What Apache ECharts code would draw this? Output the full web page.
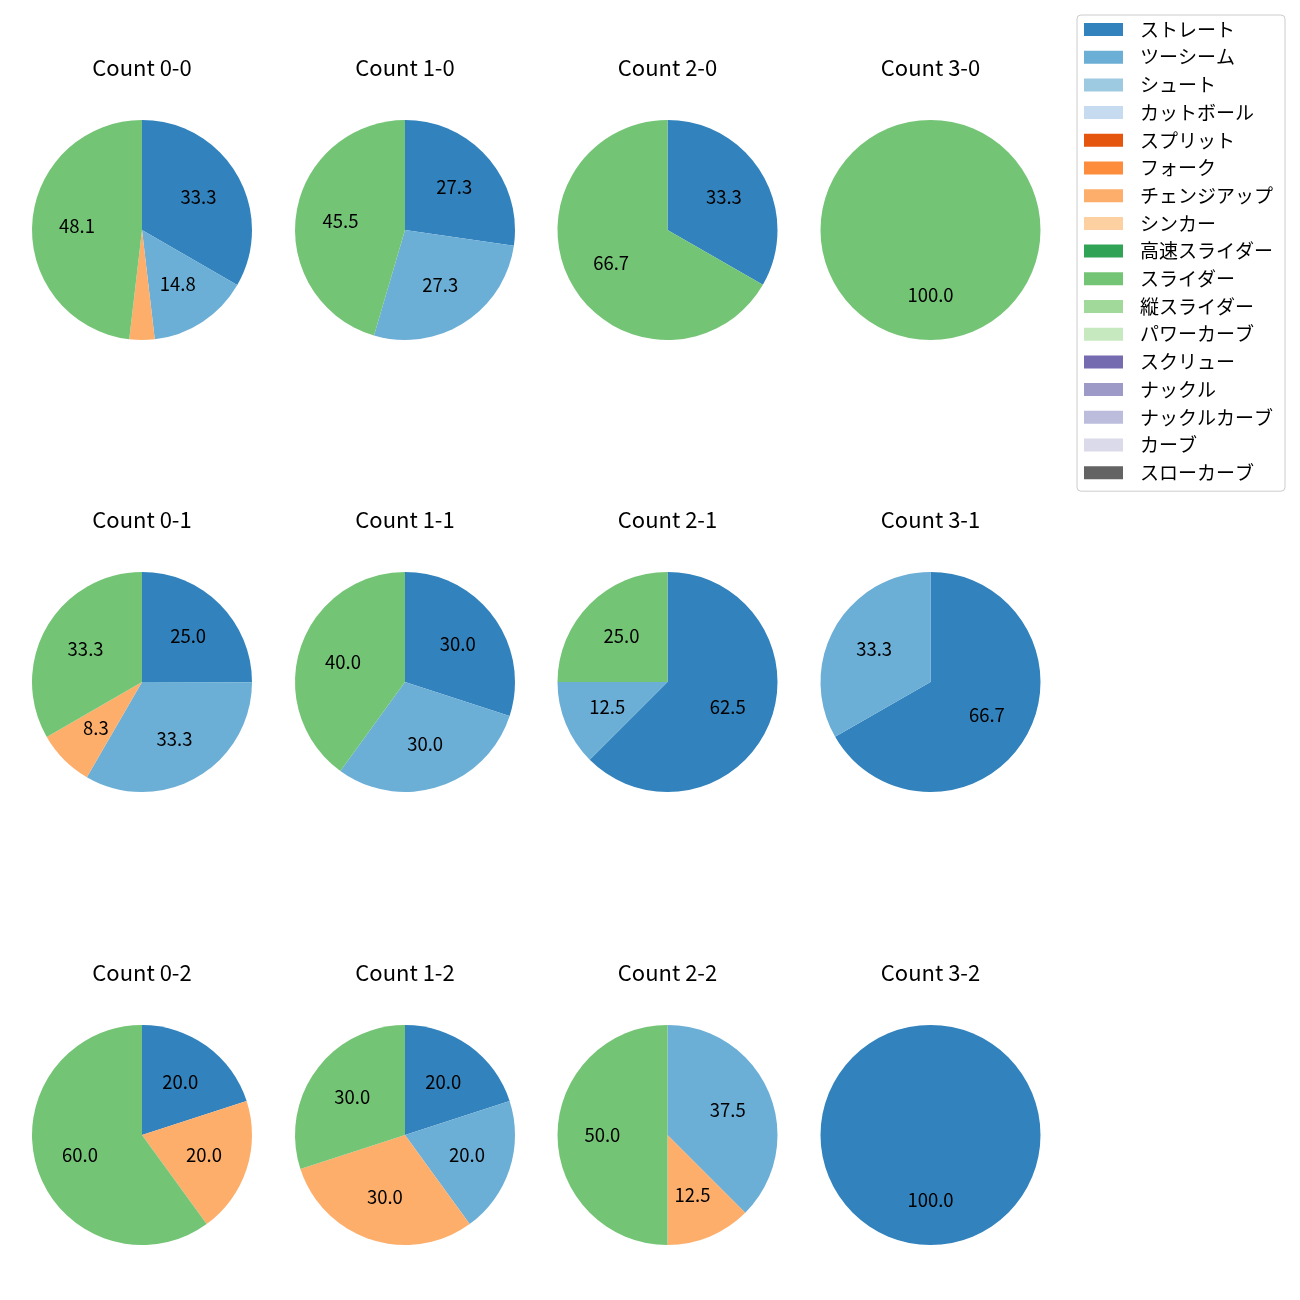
<!DOCTYPE html>
<html><head><meta charset="utf-8">
<script src="https://cdn.jsdelivr.net/npm/echarts@6/dist/echarts.min.js"></script>
<style>html,body{margin:0;padding:0;background:#fff}#c{width:1300px;height:1300px}</style>
</head><body><div id="c"></div>
<script>
// ---- data ----
const pitchTypes = ['ストレート','ツーシーム','シュート','カットボール','スプリット','フォーク','チェンジアップ','シンカー','高速スライダー','スライダー','縦スライダー','パワーカーブ','スクリュー','ナックル','ナックルカーブ','カーブ','スローカーブ'];
const pitchColors = ['#3182bd','#6baed6','#9ecae1','#c6dbef','#e6550d','#fd8d3c','#fdae6b','#fdd0a2','#31a354','#74c476','#a1d99b','#c7e9c0','#756bb1','#9e9ac8','#bcbddc','#dadaeb','#636363'];

const count_0_0 = [['ストレート',33.3],['ツーシーム',14.8],['チェンジアップ',3.7],['スライダー',48.1]];
const count_1_0 = [['ストレート',27.3],['ツーシーム',27.3],['スライダー',45.5]];
const count_2_0 = [['ストレート',33.3],['スライダー',66.7]];
const count_3_0 = [['スライダー',100.0]];
const count_0_1 = [['ストレート',25.0],['ツーシーム',33.3],['チェンジアップ',8.3],['スライダー',33.3]];
const count_1_1 = [['ストレート',30.0],['ツーシーム',30.0],['スライダー',40.0]];
const count_2_1 = [['ストレート',62.5],['ツーシーム',12.5],['スライダー',25.0]];
const count_3_1 = [['ストレート',66.7],['ツーシーム',33.3]];
const count_0_2 = [['ストレート',20.0],['チェンジアップ',20.0],['スライダー',60.0]];
const count_1_2 = [['ストレート',20.0],['ツーシーム',20.0],['チェンジアップ',30.0],['スライダー',30.0]];
const count_2_2 = [['ツーシーム',37.5],['チェンジアップ',12.5],['スライダー',50.0]];
const count_3_2 = [['ストレート',100.0]];

const panels = [
  ['Count 0-0', count_0_0], ['Count 1-0', count_1_0], ['Count 2-0', count_2_0], ['Count 3-0', count_3_0],
  ['Count 0-1', count_0_1], ['Count 1-1', count_1_1], ['Count 2-1', count_2_1], ['Count 3-1', count_3_1],
  ['Count 0-2', count_0_2], ['Count 1-2', count_1_2], ['Count 2-2', count_2_2], ['Count 3-2', count_3_2]
];

// ---- layout ----
const colX = [142, 405, 667.5, 930.5];
const rowY = [230, 682, 1135];
const R = 110;
const FONT = '"Noto Sans CJK JP", "Noto Sans", sans-serif';

const colorOf = n => pitchColors[pitchTypes.indexOf(n)];

const series = [];
const titles = [];
// dummy series so that all legend entries exist
series.push({
  type: 'pie', center: [-500, -500], radius: [0, 1], silent: true,
  label: {show: false}, labelLine: {show: false},
  data: pitchTypes.map((n, i) => ({name: n, value: 1, itemStyle: {color: pitchColors[i]}}))
});

panels.forEach((p, k) => {
  const cx = colX[k % 4], cy = rowY[Math.floor(k / 4)];
  titles.push({
    text: p[0], left: cx, top: cy - 161 - 12.5, textAlign: 'center', padding: 0,
    textStyle: {fontFamily: FONT, fontSize: 22, fontWeight: 'normal', color: '#000'}
  });
  series.push({
    type: 'pie', center: [cx, cy], radius: [0, R], startAngle: 90, clockwise: true,
    silent: true, animation: false, avoidLabelOverlap: false,
    label: {show: false}, labelLine: {show: false},
    data: p[1].map(d => ({name: d[0], value: d[1], itemStyle: {color: colorOf(d[0])}}))
  });
  series.push({
    type: 'pie', center: [cx, cy], radius: [0, R * 1.13], startAngle: 90, clockwise: true,
    silent: true, animation: false, avoidLabelOverlap: false,
    itemStyle: {color: 'rgba(0,0,0,0)'},
    labelLine: {show: false},
    label: {
      show: true, position: 'inside', color: '#000', fontFamily: FONT, fontSize: 18.5,
      formatter: q => q.value >= 5 ? q.value.toFixed(1) : ''
    },
    data: p[1].map(d => ({name: d[0], value: d[1]}))
  });
});

const chart = echarts.init(document.getElementById('c'), null, {renderer: 'canvas'});
chart.setOption({
  backgroundColor: '#fff',
  animation: false,
  title: titles,
  legend: {
    data: pitchTypes, orient: 'vertical', left: 1077, top: 15,
    icon: 'rect', itemWidth: 39, itemHeight: 13, itemGap: 8.7,
    padding: [5, 12, 9, 7],
    borderColor: '#cccccc', borderWidth: 1, borderRadius: 4, backgroundColor: '#fff',
    selectedMode: false,
    textStyle: {fontFamily: FONT, fontSize: 19, color: '#000', lineHeight: 18, padding: [0, 0, 0, 12]}
  },
  series: series
});
</script></body></html>
